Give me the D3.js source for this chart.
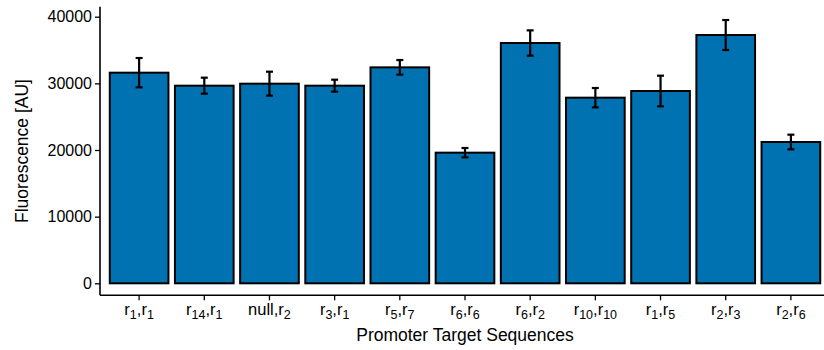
<!DOCTYPE html>
<html>
<head>
<meta charset="utf-8">
<script src="https://cdn.jsdelivr.net/npm/d3@7"></script>
<style>
  html, body { margin: 0; padding: 0; background: #fff; }
  svg { display: block; font-family: "Liberation Sans", Arial, Helvetica, sans-serif; }
</style>
</head>
<body>
<svg id="chart" width="824" height="350"></svg>
<script>
// Promoter target sequence pairs; "_" marks a subscript index.
const categories = ["r_1,r_1", "r_14,r_1", "null,r_2", "r_3,r_1", "r_5,r_7", "r_6,r_6",
                    "r_6,r_2", "r_10,r_10", "r_1,r_5", "r_2,r_3", "r_2,r_6"];
// Mean fluorescence (AU) and error half-widths
const fluorescence = [31600, 29650, 29950, 29650, 32400, 19600, 36050, 27850, 28850, 37250, 21200];
const errors = [2200, 1200, 1800, 900, 1100, 700, 1900, 1450, 2300, 2250, 1100];
const yTicks = [0, 10000, 20000, 30000, 40000];

const svg = d3.select("#chart");
const panel = { left: 100, right: 830, top: 6.7, bottom: 295.3 };

const x = d3.scaleBand()
  .domain(categories)
  .range([panel.left, panel.right])
  .paddingInner(0.1)
  .paddingOuter(0.15);

const y = d3.scaleLinear()
  .domain([-1800, 41500])
  .range([panel.bottom, panel.top]);

const data = categories.map((c, i) => ({ c, v: fluorescence[i], e: errors[i] }));

// Bars
svg.append("g").selectAll("rect")
  .data(data)
  .join("rect")
  .attr("x", d => x(d.c))
  .attr("width", x.bandwidth())
  .attr("y", d => y(d.v))
  .attr("height", d => y(0) - y(d.v))
  .attr("fill", "#0072B2")
  .attr("stroke", "#000")
  .attr("stroke-width", 2);

// Error bars
const capHalf = 3.5;
const eb = svg.append("g").attr("stroke", "#000").attr("stroke-width", 2.2).attr("fill", "none");
data.forEach(d => {
  const cx = x(d.c) + x.bandwidth() / 2;
  const y1 = y(d.v + d.e), y2 = y(d.v - d.e);
  eb.append("line").attr("x1", cx).attr("x2", cx).attr("y1", y1).attr("y2", y2);
  eb.append("line").attr("x1", cx - capHalf).attr("x2", cx + capHalf).attr("y1", y1).attr("y2", y1);
  eb.append("line").attr("x1", cx - capHalf).attr("x2", cx + capHalf).attr("y1", y2).attr("y2", y2);
});

// Y axis
const yAxis = svg.append("g")
  .attr("transform", `translate(${panel.left},0)`)
  .call(d3.axisLeft(y).tickValues(yTicks).tickFormat(d3.format("d")).tickSize(5).tickPadding(3));
yAxis.select(".domain").remove();
yAxis.selectAll(".tick line").attr("stroke", "#000").attr("stroke-width", 1.3);
yAxis.selectAll(".tick text").attr("fill", "#000").attr("font-size", 16).attr("font-family", null);
svg.append("line")
  .attr("x1", panel.left).attr("x2", panel.left)
  .attr("y1", panel.top).attr("y2", panel.bottom)
  .attr("stroke", "#000").attr("stroke-width", 1.6);

// X axis
const xAxis = svg.append("g")
  .attr("transform", `translate(0,${panel.bottom})`)
  .call(d3.axisBottom(x).tickSize(5).tickPadding(4));
xAxis.select(".domain").remove();
xAxis.selectAll(".tick line").attr("stroke", "#000").attr("stroke-width", 1.3);
svg.append("line")
  .attr("x1", panel.left).attr("x2", panel.right)
  .attr("y1", panel.bottom).attr("y2", panel.bottom)
  .attr("stroke", "#000").attr("stroke-width", 1.6);

// Tick labels with subscripts
xAxis.selectAll(".tick text").each(function(d) {
  const t = d3.select(this).text(null)
    .attr("fill", "#000").attr("font-size", 16.5).attr("font-family", null)
    .attr("dy", null).attr("y", 20);
  const parts = d.split(/(_\d+)/).filter(s => s.length);
  parts.forEach(p => {
    if (p.startsWith("_")) {
      t.append("tspan").attr("font-size", 12.5).attr("dy", 4).text(p.slice(1));
    } else {
      t.append("tspan").attr("dy", -4).text(p);
    }
  });
  // first tspan has no preceding subscript, so cancel its shift
  t.select("tspan").attr("dy", 0);
});

// Axis titles
svg.append("text")
  .attr("x", (panel.left + panel.right) / 2)
  .attr("y", 341)
  .attr("text-anchor", "middle")
  .attr("font-size", 17.5)
  .text("Promoter Target Sequences");

svg.append("text")
  .attr("transform", `translate(27.5,${(panel.top + panel.bottom) / 2}) rotate(-90)`)
  .attr("text-anchor", "middle")
  .attr("font-size", 17.5)
  .text("Fluorescence [AU]");
</script>
</body>
</html>
